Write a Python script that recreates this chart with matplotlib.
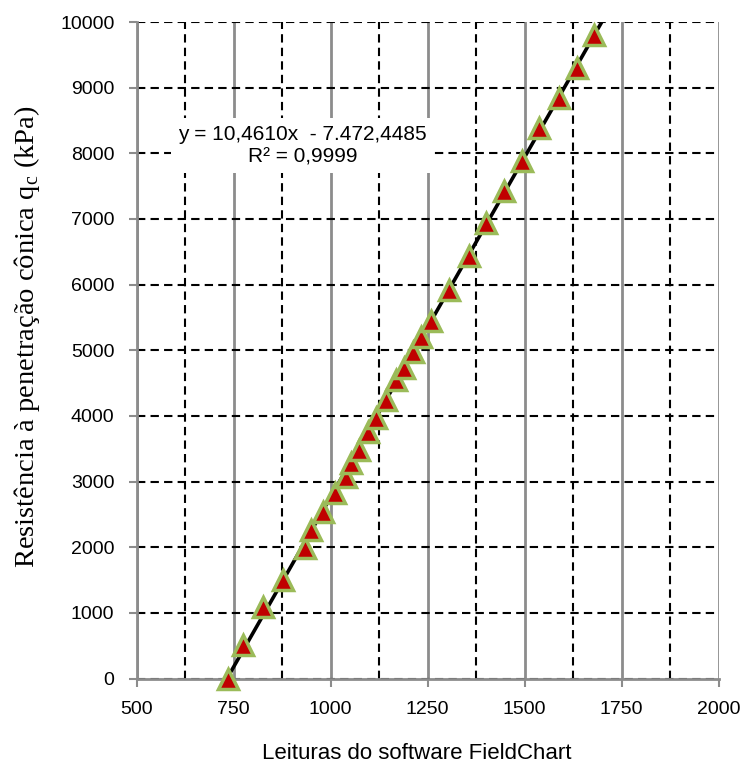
import numpy as np
import matplotlib
matplotlib.use("Agg")
import matplotlib.pyplot as plt
from matplotlib.ticker import MultipleLocator

# leituras do FieldChart x resistencia qc (kPa)
leituras = [735, 774, 825, 877, 933, 950, 980, 1010, 1040, 1053, 1074, 1095,
            1117, 1143, 1168, 1190, 1211, 1233, 1258, 1305, 1357, 1400, 1447,
            1494, 1537, 1588, 1635, 1678]
qc = [0, 510, 1095, 1500, 1985, 2265, 2540, 2825, 3075, 3280, 3480, 3760,
      3965, 4245, 4550, 4730, 4980, 5210, 5440, 5920, 6430, 6940, 7420,
      7880, 8390, 8845, 9300, 9810]
eq_text = "y = 10,4610x  - 7.472,4485\nR² = 0,9999"

gray = "#8c8c8c"
fig = plt.figure(figsize=(7.41, 7.66), dpi=100)
ax = fig.add_axes([0.1845, 0.1142, 0.7854, 0.857])

# tendencia linear
coef = np.polyfit(leituras, qc, 1)
xl = np.array([min(leituras), 1730])
ax.plot(xl, np.polyval(coef, xl), color="black", lw=2.6, zorder=3)

ax.plot(leituras, qc, linestyle="none", marker="^", ms=14,
        markerfacecolor="#c00000", markeredgecolor="#9bbb59", mew=2.5,
        zorder=4, clip_on=False)

ax.set_xlim(500, 2000)
ax.set_ylim(0, 10000)
ax.xaxis.set_major_locator(MultipleLocator(250))
ax.xaxis.set_minor_locator(MultipleLocator(125))
ax.yaxis.set_major_locator(MultipleLocator(1000))

ax.grid(which="major", axis="x", color=gray, lw=2, ls="-")
ax.grid(which="minor", axis="x", color="black", lw=1.5, ls=(0, (4, 2.5)))
ax.grid(which="major", axis="y", color="black", lw=1.5, ls=(0, (4, 2.5)))
ax.set_axisbelow(True)

for s in ["top", "right"]:
    ax.spines[s].set_visible(False)
for s in ["left", "bottom"]:
    ax.spines[s].set_color(gray)
    ax.spines[s].set_linewidth(2)

ax.tick_params(which="major", direction="out", length=6, width=1.5,
               color=gray, labelsize=14, pad=10)
ax.tick_params(which="minor", length=0)
for lab in ax.get_xticklabels() + ax.get_yticklabels():
    lab.set_family("Liberation Sans")

ax.text(927, 8117, eq_text, ha="center", va="center", fontsize=15,
        family="Liberation Sans", linespacing=1.25, zorder=5,
        bbox=dict(facecolor="white", edgecolor="none", pad=5))

ax.set_xlabel("Leituras do software FieldChart", fontsize=16,
              family="Liberation Sans")
ax.xaxis.set_label_coords(0.482, -0.098)
ax.set_ylabel("Resistência à penetração cônica q$_\\mathregular{c}$ (kPa)",
              fontsize=20.5, family="Liberation Serif")
ax.yaxis.set_label_coords(-0.162, 0.52)

fig.savefig("out.png", dpi=100)
